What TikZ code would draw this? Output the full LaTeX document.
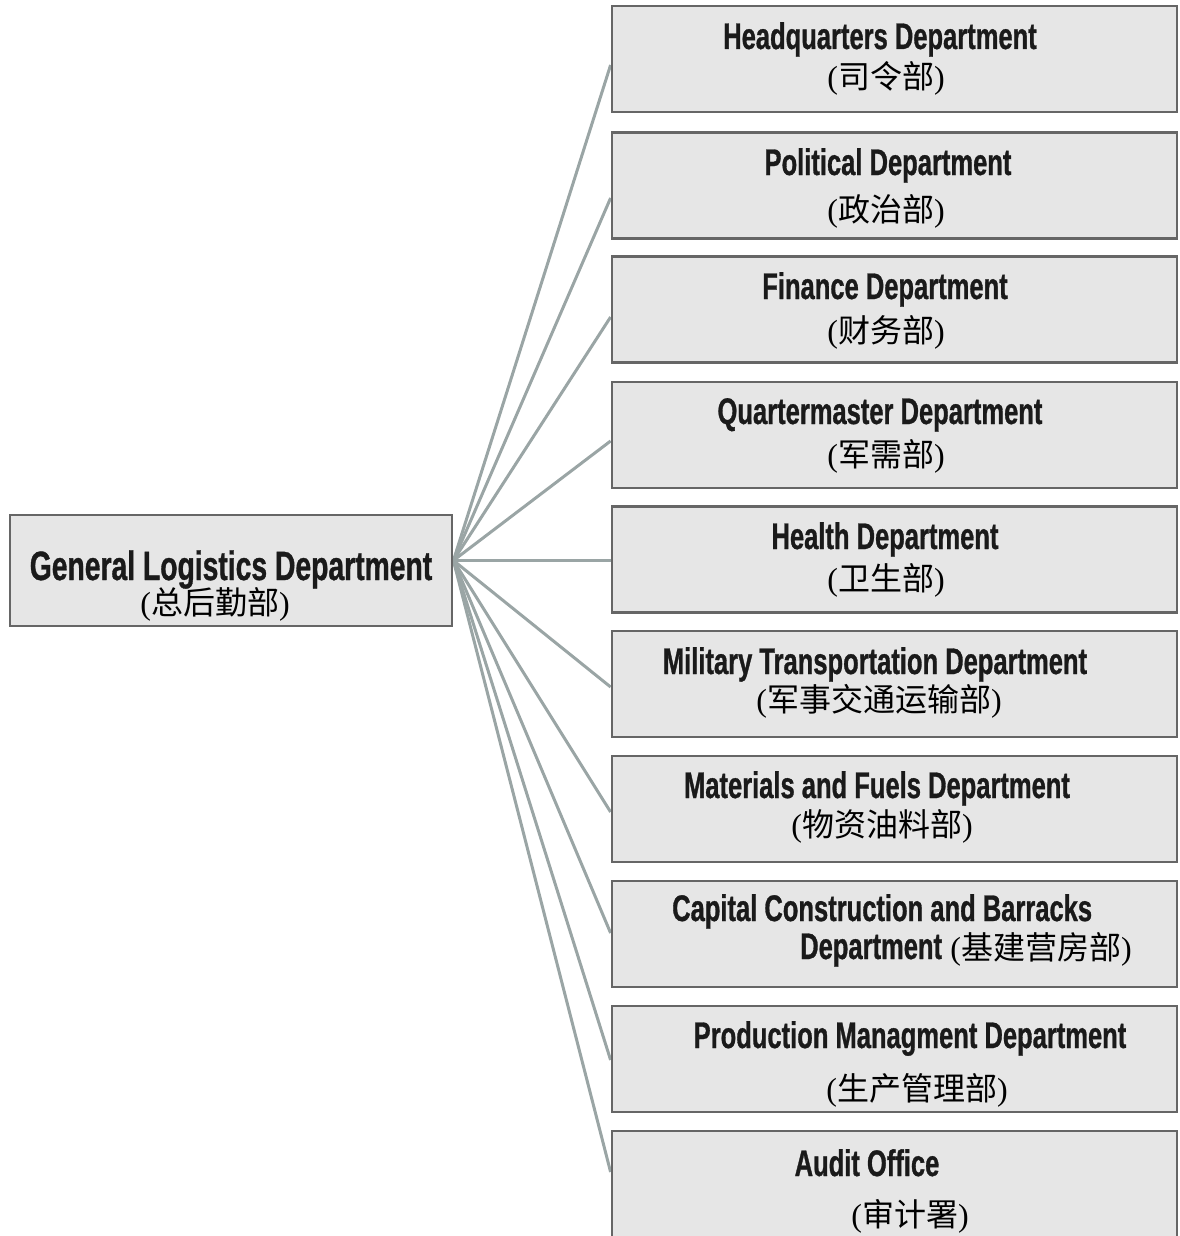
\documentclass[tikz,border=0pt]{standalone}
\usepackage{fontspec}
\setmainfont{Liberation Serif}
\newfontfamily\tfont[FakeStretch=0.69,FakeBold=0.8]{Liberation Sans Bold}
\newfontfamily\cjk{Noto Sans CJK SC}
\usetikzlibrary{backgrounds}
\definecolor{boxfill}{HTML}{E6E6E6}
\definecolor{boxline}{HTML}{666666}
\definecolor{linkgray}{HTML}{9AA5A5}
\definecolor{titlecol}{HTML}{1A1A1A}
\newcommand{\zhlab}[1]{{\rmfamily(}{\cjk #1}{\rmfamily)}}
\tikzset{
  deptbox/.style={draw=boxline, line width=2.8pt, fill=boxfill, rectangle, inner sep=0pt,
    minimum width=565pt, minimum height=106pt},
  conn/.style={draw=linkgray, line width=3pt},
  ttl/.style={anchor=base, inner sep=0pt, text=titlecol, font=\tfont\fontsize{37}{40}\selectfont},
  bigttl/.style={anchor=base, inner sep=0pt, text=titlecol, font=\tfont\fontsize{41}{44}\selectfont},
  zh/.style={anchor=base, inner sep=0pt, text=black, font=\fontsize{32}{36}\selectfont},
}
\begin{document}
\begin{tikzpicture}[x=1pt, y=-1pt]
\useasboundingbox (0,0) rectangle (1179,1236);
% boxes
\node[deptbox, minimum width=442pt, minimum height=111pt] (gld) at (231,570.5) {};
\node[deptbox] (hq)  at (894.5,59)    {};
\node[deptbox] (pol) at (894.5,185.5) {};
\node[deptbox] (fin) at (894.5,309.5) {};
\node[deptbox] (qm)  at (894.5,435)   {};
\node[deptbox] (hea) at (894.5,559.5) {};
\node[deptbox] (mil) at (894.5,684)   {};
\node[deptbox] (mat) at (894.5,809)   {};
\node[deptbox] (cap) at (894.5,934)   {};
\node[deptbox] (prd) at (894.5,1059)  {};
\node[deptbox] (aud) at (894.5,1184)  {};
% connectors
\begin{scope}[on background layer]
\draw[conn] ([yshift=10pt]gld.east) -- ([yshift=-6pt]hq.west);
\draw[conn] ([yshift=10pt]gld.east) -- ([yshift=-12.5pt]pol.west);
\draw[conn] ([yshift=10pt]gld.east) -- ([yshift=-7.5pt]fin.west);
\draw[conn] ([yshift=10pt]gld.east) -- ([yshift=-6pt]qm.west);
\draw[conn] ([yshift=10pt]gld.east) -- ([yshift=-1pt]hea.west);
\draw[conn] ([yshift=10pt]gld.east) -- ([yshift=-3pt]mil.west);
\draw[conn] ([yshift=10pt]gld.east) -- ([yshift=-3pt]mat.west);
\draw[conn] ([yshift=10pt]gld.east) -- ([yshift=1pt]cap.west);
\draw[conn] ([yshift=10pt]gld.east) -- ([yshift=-1pt]prd.west);
\draw[conn] ([yshift=10pt]gld.east) -- ([yshift=12pt]aud.west);
\end{scope}
% texts
\node[bigttl] (gldt) at (231,580) {General Logistics Department};
\node[zh] (gldz) at (215,614) {\zhlab{总后勤部}};
\node[ttl] (hqt) at (880,49) {Headquarters Department};
\node[zh] (hqz) at (886,89) {\zhlab{司令部}};
\node[ttl] (polt) at (888,175) {Political Department};
\node[zh] (polz) at (886,221) {\zhlab{政治部}};
\node[ttl] (fint) at (885,299) {Finance Department};
\node[zh] (finz) at (886,342) {\zhlab{财务部}};
\node[ttl] (qmt) at (880,424) {Quartermaster Department};
\node[zh] (qmz) at (886,466) {\zhlab{军需部}};
\node[ttl] (heat) at (885,549) {Health Department};
\node[zh] (heaz) at (886,590) {\zhlab{卫生部}};
\node[ttl] (milt) at (875,674) {Military Transportation Department};
\node[zh] (milz) at (879,711) {\zhlab{军事交通运输部}};
\node[ttl] (matt) at (877,798) {Materials and Fuels Department};
\node[zh] (matz) at (882,836) {\zhlab{物资油料部}};
\node[ttl, anchor=base west] (capt) at (672,921) {Capital Construction and Barracks};
\node[ttl, anchor=base west] (capt2) at (800,959) {Department};
\node[zh, anchor=base west] (capz) at ([xshift=8pt]capt2.base east) {\zhlab{基建营房部}};
\node[ttl] (prdt) at (910,1048) {Production Managment Department};
\node[zh] (prdz) at (917,1100) {\zhlab{生产管理部}};
\node[ttl] (audt) at (867,1176) {Audit Office};
\node[zh] (audz) at (910,1226) {\zhlab{审计署}};
\end{tikzpicture}
\end{document}
